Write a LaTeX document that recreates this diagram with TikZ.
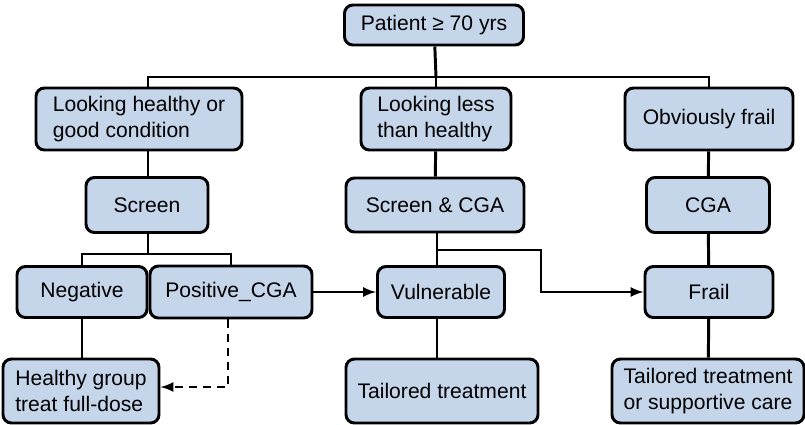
\documentclass[tikz,border=0pt]{standalone}
\usepackage{fontspec}
\setmainfont{Liberation Sans}
\definecolor{boxblue}{RGB}{197,213,234}
\begin{document}
\begin{tikzpicture}[x=0.025cm, y=-0.025cm, >=latex, line width=2.1pt,
    box/.style={draw, fill=boxblue, rounded corners=6pt, align=left,
      inner sep=2pt, font=\fontsize{15}{18}\selectfont}]
  \useasboundingbox (0,0) rectangle (805,424);
  % top
  \node[box, minimum width=179*0.025cm, minimum height=40*0.025cm] (patient) at (434,25) {Patient ≥ 70 yrs};
  % appearance
  \node[box, minimum width=206*0.025cm, minimum height=62*0.025cm] (healthylook) at (139,119) {Looking healthy or\\good condition};
  \node[box, minimum width=150*0.025cm, minimum height=62*0.025cm] (lesslook) at (436,119) {Looking less\\than healthy};
  \node[box, minimum width=168*0.025cm, minimum height=62*0.025cm] (frailook) at (709,119) {Obviously frail};
  % assessment
  \node[box, minimum width=122*0.025cm, minimum height=55*0.025cm] (screen) at (147,205) {Screen};
  \node[box, minimum width=178*0.025cm, minimum height=54*0.025cm] (screencga) at (435,205) {Screen \& CGA};
  \node[box, minimum width=123*0.025cm, minimum height=55*0.025cm] (cga) at (708,205) {CGA};
  % result
  \node[box, minimum width=130*0.025cm, minimum height=51*0.025cm] (negative) at (82,292) {Negative};
  \node[box, minimum width=162*0.025cm, minimum height=52*0.025cm] (positive) at (231,292) {Positive\_CGA};
  \node[box, minimum width=127*0.025cm, minimum height=51*0.025cm] (vulnerable) at (441,292) {Vulnerable};
  \node[box, minimum width=128*0.025cm, minimum height=51*0.025cm] (frail) at (709,292) {Frail};
  % treatment
  \node[box, minimum width=156*0.025cm, minimum height=64*0.025cm] (fulldose) at (81,391) {Healthy group\\treat full-dose};
  \node[box, minimum width=192*0.025cm, minimum height=64*0.025cm] (tailored) at (442,391) {Tailored treatment};
  \node[box, minimum width=192*0.025cm, minimum height=64*0.025cm] (supportive) at (708,391) {Tailored treatment\\or supportive care};

  \coordinate (hub) at (436,77);
  \coordinate (split) at (148,254);
  \coordinate (fork) at (437,250);
  \coordinate (bend) at (541,250);

  \draw (patient) -- (hub);
  \draw (healthylook.north -| split) |- (hub) -| (frailook.north);
  \draw (hub) -- (lesslook.north);
  \draw (healthylook.south -| split) -- (split |- screen.north);
  \draw (lesslook) -- (screencga);
  \draw (frailook) -- (cga);
  \draw (screen.south -| split) -- (split);
  \draw (negative.north) |- (split) -| (positive.north);
  \draw (screencga.south -| fork) -- (fork |- vulnerable.north);
  \draw[->] (fork) -- (bend) |- (frail.west);
  \draw (cga) -- (frail);
  \draw[->] (positive.east) -- (vulnerable.west);
  \draw[->, dash pattern=on 6pt off 4pt] ([xshift=-3*0.025cm]positive.south) |- ([yshift=4*0.025cm]fulldose.east);
  \draw (negative.south) -- (negative.south |- fulldose.north);
  \draw (vulnerable.south -| fork) -- (fork |- tailored.north);
  \draw (frail) -- (supportive);
\end{tikzpicture}
\end{document}
